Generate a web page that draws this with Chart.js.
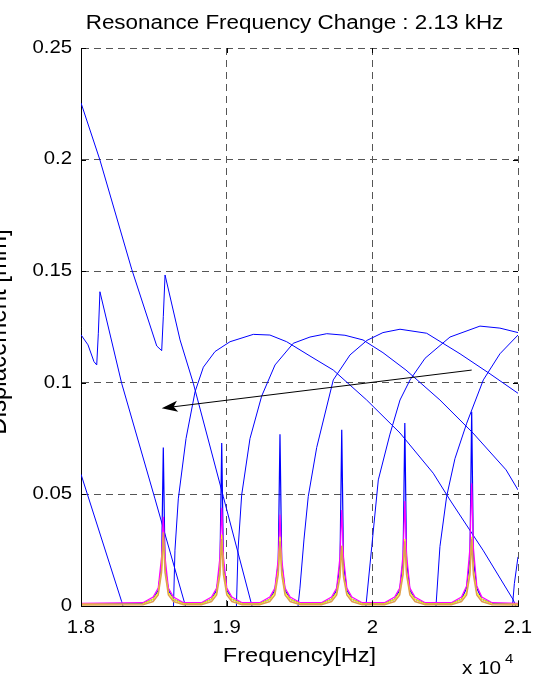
<!DOCTYPE html>
<html>
<head>
<meta charset="utf-8">
<title>Resonance Frequency Change</title>
<script src="https://cdn.jsdelivr.net/npm/chart.js@4.4.1/dist/chart.umd.min.js"></script>
<style>
  html, body { margin: 0; padding: 0; background: #fff; }
</style>
</head>
<body>
<canvas id="resChart" width="533" height="681"></canvas>
<script>
// axis ticks (frequency in units of 10^4 Hz)
const xTicks = [1.8, 1.9, 2.0, 2.1];
const xTickLabels = ["1.8", "1.9", "2", "2.1"];
const yTicks = [0, 0.05, 0.1, 0.15, 0.2, 0.25];
const yTickLabels = ["0", "0.05", "0.1", "0.15", "0.2", "0.25"];

const titleText = "Resonance Frequency Change : 2.13 kHz";
const xLabelText = "Frequency[Hz]";
const yLabelText = "Displacement [mm]";

// resonance peaks, shared frequency grid
const peakFreq = [
  1.8,
  1.8425, 1.8495, 1.8530, 1.8553, 1.8565, 1.8577, 1.8600, 1.8635, 1.8705,
  1.8826, 1.8896, 1.8931, 1.8954, 1.8966, 1.8978, 1.9001, 1.9036, 1.9106,
  1.9226, 1.9296, 1.9331, 1.9354, 1.9366, 1.9378, 1.9401, 1.9436, 1.9506,
  1.9650, 1.9720, 1.9755, 1.9778, 1.9790, 1.9802, 1.9825, 1.9860, 1.9930,
  2.0083, 2.0153, 2.0188, 2.0211, 2.0223, 2.0235, 2.0258, 2.0293, 2.0363,
  2.0542, 2.0612, 2.0647, 2.0670, 2.0682, 2.0694, 2.0717, 2.0752, 2.0822,
  2.1
];
const bluePeak = [
  0.001,
  0.0012, 0.003, 0.007, 0.018, 0.071, 0.018, 0.007, 0.003, 0.0012,
  0.0012, 0.003, 0.007, 0.018, 0.073, 0.018, 0.007, 0.003, 0.0012,
  0.0012, 0.003, 0.007, 0.019, 0.077, 0.019, 0.007, 0.003, 0.0012,
  0.0012, 0.003, 0.007, 0.019, 0.079, 0.019, 0.007, 0.003, 0.0012,
  0.0012, 0.003, 0.007, 0.020, 0.082, 0.020, 0.007, 0.003, 0.0012,
  0.0012, 0.003, 0.008, 0.021, 0.087, 0.021, 0.008, 0.003, 0.0012,
  0.001
];
const magentaPeak = [
  0.0012,
  0.0015, 0.004, 0.008, 0.022, 0.040, 0.022, 0.008, 0.004, 0.0015,
  0.0015, 0.004, 0.008, 0.022, 0.044, 0.022, 0.008, 0.004, 0.0015,
  0.0015, 0.004, 0.008, 0.021, 0.041, 0.021, 0.008, 0.004, 0.0015,
  0.0015, 0.004, 0.008, 0.022, 0.043, 0.022, 0.008, 0.004, 0.0015,
  0.0015, 0.004, 0.008, 0.023, 0.047, 0.023, 0.008, 0.004, 0.0015,
  0.0015, 0.004, 0.009, 0.026, 0.055, 0.026, 0.009, 0.004, 0.0015,
  0.0012
];
const yellowPeak = [
  0.0008,
  0.001, 0.003, 0.006, 0.016, 0.031, 0.016, 0.006, 0.003, 0.001,
  0.001, 0.003, 0.006, 0.016, 0.032, 0.016, 0.006, 0.003, 0.001,
  0.001, 0.003, 0.006, 0.016, 0.031, 0.016, 0.006, 0.003, 0.001,
  0.001, 0.003, 0.006, 0.014, 0.027, 0.014, 0.006, 0.003, 0.001,
  0.001, 0.003, 0.006, 0.015, 0.030, 0.015, 0.006, 0.003, 0.001,
  0.001, 0.003, 0.006, 0.016, 0.031, 0.016, 0.006, 0.003, 0.001,
  0.0008
];
const orangePeak = [
  0.0005,
  0.0006, 0.002, 0.005, 0.015, 0.033, 0.015, 0.005, 0.002, 0.0006,
  0.0006, 0.002, 0.005, 0.014, 0.030, 0.014, 0.005, 0.002, 0.0006,
  0.0006, 0.002, 0.005, 0.014, 0.029, 0.014, 0.005, 0.002, 0.0006,
  0.0006, 0.002, 0.005, 0.013, 0.027, 0.013, 0.005, 0.002, 0.0006,
  0.0006, 0.002, 0.005, 0.014, 0.029, 0.014, 0.005, 0.002, 0.0006,
  0.0006, 0.002, 0.005, 0.014, 0.030, 0.014, 0.005, 0.002, 0.0006,
  0.0005
];

// falling sweeps entering from the left
const sweep1Freq = [1.8, 1.8130, 1.8348, 1.8520, 1.8554, 1.8565, 1.8577, 1.8680, 1.8771, 1.8977, 1.9174];
const sweep1Vals = [0.2254, 0.1998, 0.1509, 0.1165, 0.1144, 0.1296, 0.1483, 0.1192, 0.0998, 0.049, 0];
const sweep2Freq = [1.8, 1.8048, 1.8089, 1.8108, 1.8119, 1.8130, 1.8279, 1.8508, 1.8717];
const sweep2Vals = [0.1215, 0.117, 0.1095, 0.108, 0.1222, 0.1408, 0.0998, 0.048, 0];
const sweep3Freq = [1.8, 1.8279, 1.8288];
const sweep3Vals = [0.059, 0.002, 0];

// arches
const archAFreq = [1.8635, 1.8645, 1.8668, 1.8721, 1.8783, 1.8840, 1.8920, 1.9023, 1.9183, 1.9297, 1.9412, 1.9572, 1.9732, 1.9961, 2.0190, 2.0418, 2.0533, 2.0760, 2.0968, 2.0985];
const archAVals = [0, 0.025, 0.048, 0.075, 0.096, 0.107, 0.114, 0.1184, 0.1217, 0.1214, 0.1184, 0.112, 0.1057, 0.0923, 0.0775, 0.0595, 0.0475, 0.025, 0.0027, 0];
const archBFreq = [1.9067, 1.9078, 1.9103, 1.9160, 1.9240, 1.9332, 1.9457, 1.9572, 1.9687, 1.9812, 1.9936, 2.0073, 2.0231, 2.0464, 2.0691, 2.0918, 2.1];
const archBVals = [0, 0.025, 0.0497, 0.075, 0.094, 0.108, 0.1177, 0.1205, 0.122, 0.1213, 0.1192, 0.1135, 0.1057, 0.0923, 0.0775, 0.061, 0.052];
const archCFreq = [1.9490, 1.9503, 1.9531, 1.9560, 1.9618, 1.9732, 1.9847, 1.9963, 2.0073, 2.0190, 2.0373, 2.0602, 2.0808, 2.1];
const archCVals = [0, 0.008, 0.03, 0.049, 0.071, 0.1013, 0.1125, 0.119, 0.1225, 0.124, 0.1222, 0.113, 0.104, 0.0953];
const archDFreq = [1.9956, 1.9996, 2.0041, 2.0121, 2.0190, 2.0259, 2.0362, 2.0533, 2.0739, 2.0876, 2.1];
const archDVals = [0, 0.0266, 0.0565, 0.077, 0.0923, 0.1013, 0.111, 0.1205, 0.1254, 0.1245, 0.1225];
const archEFreq = [2.0437, 2.0464, 2.0510, 2.0567, 2.0648, 2.0762, 2.0876, 2.1];
const archEVals = [0, 0.0266, 0.049, 0.066, 0.0819, 0.1013, 0.113, 0.1214];
const archFFreq = [2.0962, 2.0975, 2.1];
const archFVals = [0, 0.01, 0.022];

// annotation arrow (tail -> head)
const arrowFreq = [2.0682, 1.8554];
const arrowVals = [0.1057, 0.0886];

const pts = (xs, ys) => xs.map((v, i) => ({ x: v, y: ys[i] }));

const FONT = '"Liberation Sans", Arial, Helvetica, sans-serif';
const STRETCH = 1.15;

function line(data, color, order, width) {
  return {
    data: data,
    borderColor: color,
    borderWidth: width || 1,
    pointRadius: 0,
    tension: 0,
    fill: false,
    order: order
  };
}

// matlab-like texts, inner ticks and the arrow
const matlabDecor = {
  id: "matlabDecor",
  afterDatasetsDraw(chart) {
    const { ctx, scales: { x, y } } = chart;
    const x0 = x.getPixelForValue(arrowFreq[0]), y0 = y.getPixelForValue(arrowVals[0]);
    const x1 = x.getPixelForValue(arrowFreq[1]), y1 = y.getPixelForValue(arrowVals[1]);
    const ang = Math.atan2(y1 - y0, x1 - x0);
    const c = Math.cos(ang), s = Math.sin(ang);
    ctx.save();
    ctx.strokeStyle = "#000";
    ctx.fillStyle = "#000";
    ctx.lineWidth = 1;
    ctx.beginPath();
    ctx.moveTo(x0, y0);
    ctx.lineTo(x1 - 10 * c, y1 - 10 * s);
    ctx.stroke();
    ctx.beginPath();
    ctx.moveTo(x1, y1);
    ctx.lineTo(x1 - 16 * c + 5.5 * s, y1 - 16 * s - 5.5 * c);
    ctx.lineTo(x1 - 12 * c, y1 - 12 * s);
    ctx.lineTo(x1 - 16 * c - 5.5 * s, y1 - 16 * s + 5.5 * c);
    ctx.closePath();
    ctx.fill();
    ctx.restore();
  },
  afterDraw(chart) {
    const { ctx, chartArea: a, scales: { x, y } } = chart;
    ctx.save();
    ctx.strokeStyle = "#000";
    ctx.lineWidth = 1;
    ctx.beginPath();
    xTicks.forEach(v => {
      const px = Math.round(x.getPixelForValue(v)) + 0.5;
      ctx.moveTo(px, a.bottom); ctx.lineTo(px, a.bottom - 5);
      ctx.moveTo(px, a.top); ctx.lineTo(px, a.top + 5);
    });
    yTicks.forEach(v => {
      const py = Math.round(y.getPixelForValue(v)) + 0.5;
      ctx.moveTo(a.left, py); ctx.lineTo(a.left + 5, py);
      ctx.moveTo(a.right, py); ctx.lineTo(a.right - 5, py);
    });
    ctx.stroke();
    ctx.restore();

    const put = (txt, px, py, size, align, base) => {
      ctx.save();
      ctx.font = size + "px " + FONT;
      ctx.fillStyle = "#000";
      ctx.textAlign = align;
      ctx.textBaseline = base;
      ctx.translate(px, py);
      ctx.scale(STRETCH, 1);
      ctx.fillText(txt, 0, 0);
      ctx.restore();
    };
    xTicks.forEach((v, i) => put(xTickLabels[i], x.getPixelForValue(v), a.bottom + 22, 17.7, "center", "middle"));
    yTicks.forEach((v, i) => put(yTickLabels[i], a.left - 9, y.getPixelForValue(v), 17.7, "right", "middle"));
    const cx = (a.left + a.right) / 2;
    put(titleText, cx - 5, 29, 19.5, "center", "alphabetic");
    put(xLabelText, cx, 662, 20.5, "center", "alphabetic");
    put("x 10", 462, 674, 18, "left", "alphabetic");
    put("4", 505, 663, 13, "left", "alphabetic");

    // y label, rotated and mostly outside the canvas, as in the source figure
    ctx.save();
    ctx.font = "24px " + FONT;
    ctx.fillStyle = "#000";
    ctx.textAlign = "center";
    ctx.textBaseline = "alphabetic";
    ctx.translate(6, (a.top + a.bottom) / 2 + 5);
    ctx.scale(STRETCH, 1);
    ctx.rotate(-Math.PI / 2);
    ctx.fillText(yLabelText, 0, 0);
    ctx.restore();
  }
};

new Chart(document.getElementById("resChart"), {
  type: "line",
  data: {
    datasets: [
      line(pts(peakFreq, orangePeak), "#e0a050", 0, 1.5),
      line(pts(peakFreq, yellowPeak), "#ffff00", 1, 1.2),
      line(pts(peakFreq, magentaPeak), "#ff00ff", 2, 1.2),
      line(pts(peakFreq, bluePeak), "#0000ff", 3, 1.2),
      line(pts(sweep1Freq, sweep1Vals), "#0000ff", 4),
      line(pts(sweep2Freq, sweep2Vals), "#0000ff", 4),
      line(pts(sweep3Freq, sweep3Vals), "#0000ff", 4),
      line(pts(archAFreq, archAVals), "#0000ff", 4),
      line(pts(archBFreq, archBVals), "#0000ff", 4),
      line(pts(archCFreq, archCVals), "#0000ff", 4),
      line(pts(archDFreq, archDVals), "#0000ff", 4),
      line(pts(archEFreq, archEVals), "#0000ff", 4),
      line(pts(archFFreq, archFVals), "#0000ff", 4)
    ]
  },
  options: {
    responsive: false,
    animation: false,
    devicePixelRatio: 1,
    events: [],
    layout: { padding: { top: 48, right: 15, left: 0, bottom: 0 } },
    plugins: { legend: { display: false }, tooltip: { enabled: false }, title: { display: false } },
    scales: {
      x: {
        type: "linear",
        min: 1.8,
        max: 2.1,
        afterBuildTicks: s => { s.ticks = xTicks.map(v => ({ value: v })); },
        afterFit: s => { s.height = 75; },
        ticks: { display: false },
        grid: { color: "#555", lineWidth: 1, drawTicks: false },
        border: { display: true, color: "#000", width: 1, dash: [7, 5] }
      },
      y: {
        type: "linear",
        min: 0,
        max: 0.25,
        afterBuildTicks: s => { s.ticks = yTicks.map(v => ({ value: v })); },
        afterFit: s => { s.width = 81; },
        ticks: { display: false },
        grid: { color: "#555", lineWidth: 1, drawTicks: false },
        border: { display: true, color: "#000", width: 1, dash: [7, 5] }
      }
    }
  },
  plugins: [matlabDecor]
});
</script>
</body>
</html>
